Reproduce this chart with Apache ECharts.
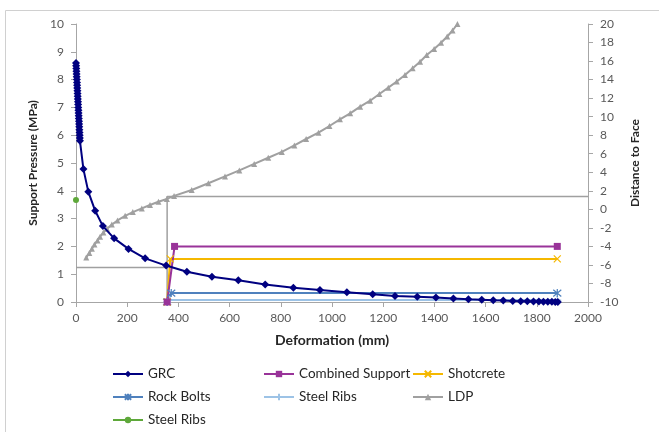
<!DOCTYPE html>
<html>
<head>
<meta charset="utf-8">
<script src="https://cdn.jsdelivr.net/npm/echarts@6/dist/echarts.min.js"></script>
<style>
  html, body { margin: 0; padding: 0; background: #fff; }
  #chart { width: 659px; height: 432px; }
</style>
</head>
<body>
<div id="chart"></div>
<script>
// Ground reaction curve: deformation (mm) vs support pressure (MPa)
var grcDeformation = [0, 0.6, 1.1, 1.7, 2.2, 2.8, 3.3, 3.9, 4.4, 5, 5.5, 6.1, 6.6, 7.2, 7.7,
  8.3, 8.8, 9.4, 9.9, 10.5, 11, 11.6, 12.1, 12.7, 13.2, 13.8, 14.3, 14.9, 15.4,
  29, 48, 75, 105, 149, 205, 270, 352, 433, 531, 634, 739, 849, 953, 1058, 1159,
  1246, 1333, 1406, 1474, 1533, 1585, 1630, 1669, 1706, 1737, 1763, 1787, 1808,
  1826, 1843, 1859, 1872, 1882];
var grcPressure = [8.6, 8.5, 8.4, 8.3, 8.2, 8.1, 8.0, 7.9, 7.8, 7.7, 7.6, 7.5, 7.4, 7.3, 7.2,
  7.1, 7.0, 6.9, 6.8, 6.7, 6.6, 6.5, 6.4, 6.3, 6.2, 6.1, 6.0, 5.9, 5.8,
  4.78, 3.97, 3.28, 2.73, 2.29, 1.91, 1.57, 1.31, 1.09, 0.91, 0.78, 0.63, 0.51, 0.43, 0.35, 0.28,
  0.22, 0.19, 0.16, 0.13, 0.1, 0.08, 0.06, 0.05, 0.04, 0.03, 0.025, 0.02, 0.015,
  0.01, 0.008, 0.005, 0.003, 0];

// Support reaction lines
var combinedDeformation = [356, 385, 1880];
var combinedPressure = [0, 2.0, 2.0];
var shotcreteDeformation = [356, 368, 1880];
var shotcretePressure = [0, 1.55, 1.55];
var boltsDeformation = [356, 372, 1880];
var boltsPressure = [0, 0.32, 0.32];
var ribsDeformation = [356, 366, 1880];
var ribsPressure = [0, 0.07, 0.07];
var ribsPointDeformation = [0];
var ribsPointPressure = [3.67];

// Longitudinal deformation profile: deformation (mm) vs distance to face (m)
var ldpDeformation = [40, 52, 62, 72, 84, 94, 107, 121, 140, 162, 192, 222, 257, 289, 322, 355,
  383, 452, 517, 582, 638, 696, 751, 804, 853, 899, 947, 990, 1031, 1071, 1110, 1149,
  1185, 1220, 1253, 1285, 1315, 1344, 1370, 1399, 1426, 1450, 1471, 1490];
var ldpDistance = [-5.2, -4.7, -4.25, -3.8, -3.35, -2.95, -2.5, -2.1, -1.65, -1.2, -0.7, -0.3, 0.1, 0.47, 0.82, 1.12,
  1.45, 2.09, 2.81, 3.55, 4.2, 4.9, 5.57, 6.2, 6.9, 7.59, 8.27, 8.99, 9.71, 10.36, 11.08, 11.72,
  12.45, 13.13, 13.8, 14.5, 15.22, 15.93, 16.65, 17.3, 17.98, 18.65, 19.3, 20];

// Installation guide lines
var guidePressureX = [0, 356];
var guidePressureY = [1.24, 1.24];
var guideDistanceX = [356, 356, 2000];
var guideDistanceY = [-10, 1.38, 1.38];

var xTicks = { min: 0, max: 2000, interval: 200 };
var leftTicks = { min: 0, max: 10, interval: 1 };
var rightTicks = { min: -10, max: 20, interval: 2 };

function pairs(xs, ys) {
  return xs.map(function (x, i) { return [x, ys[i]]; });
}
function plain(v) { return String(v); }

var FONT = 'Lato';
var axisGray = '#A6A6A6';
var labelStyle = { color: '#595959', fontSize: 12, fontFamily: FONT, formatter: plain };
var nameStyle = { color: '#262626', fontSize: 12, fontWeight: 'bold', fontFamily: FONT };

var X_MARK = 'path://M0,0L10,10M10,0L0,10';
var STAR_MARK = 'path://M0,0L10,10M10,0L0,10M5,-1L5,11';
var PLUS_MARK = 'path://M5,0L5,10M0,5L10,5';

var chart = echarts.init(document.getElementById('chart'), null, { renderer: 'canvas' });

var legendText = { color: '#262626', fontSize: 13.5, fontFamily: FONT };
function legendAt(left, names) {
  return {
    left: left, top: 367, orient: 'vertical', padding: 0,
    itemWidth: 30, itemHeight: 8, itemGap: 9,
    textStyle: legendText, data: names
  };
}

var option = {
  animation: false,
  backgroundColor: '#ffffff',
  graphic: [{
    type: 'rect',
    shape: { x: 5.5, y: 10.5, width: 700, height: 500 },
    style: { fill: 'none', stroke: '#D0D0D0', lineWidth: 1 },
    silent: true,
    z: -1
  }],
  grid: { left: 76, right: 71, top: 24, bottom: 130, containLabel: false },
  legend: [
    legendAt(112, ['GRC', 'Rock Bolts', 'Steel Ribs ']),
    legendAt(263, ['Combined Support', 'Steel Ribs']),
    legendAt(412, ['Shotcrete', 'LDP'])
  ],
  xAxis: {
    type: 'value', min: xTicks.min, max: xTicks.max, interval: xTicks.interval,
    name: 'Deformation (mm)', nameLocation: 'middle', nameGap: 31,
    nameTextStyle: Object.assign({}, nameStyle, { fontSize: 14 }),
    axisLine: { show: true, lineStyle: { color: axisGray } },
    axisTick: { show: true, length: 5, lineStyle: { color: axisGray } },
    axisLabel: Object.assign({ margin: 10 }, labelStyle),
    splitLine: { show: false }
  },
  yAxis: [
    {
      type: 'value', position: 'left', min: leftTicks.min, max: leftTicks.max, interval: leftTicks.interval,
      name: 'Support Pressure (MPa)', nameLocation: 'middle', nameGap: 37, nameTextStyle: nameStyle,
      axisLine: { show: true, lineStyle: { color: axisGray } },
      axisTick: { show: true, length: 5, lineStyle: { color: axisGray } },
      axisLabel: Object.assign({ margin: 12 }, labelStyle),
      splitLine: { show: false }
    },
    {
      type: 'value', position: 'right', min: rightTicks.min, max: rightTicks.max, interval: rightTicks.interval,
      name: 'Distance to Face', nameLocation: 'middle', nameGap: 34, nameRotate: 90, nameTextStyle: nameStyle,
      axisLine: { show: true, lineStyle: { color: axisGray } },
      axisTick: { show: true, length: 5, lineStyle: { color: axisGray } },
      axisLabel: Object.assign({ margin: 12 }, labelStyle),
      splitLine: { show: false }
    }
  ],
  series: [
    {
      name: 'guide-left', type: 'line', yAxisIndex: 0, data: pairs(guidePressureX, guidePressureY),
      symbol: 'none', lineStyle: { color: '#A0A0A0', width: 1.5 }, z: 1, silent: true
    },
    {
      name: 'guide-right', type: 'line', yAxisIndex: 1, data: pairs(guideDistanceX, guideDistanceY),
      symbol: 'none', lineStyle: { color: '#A0A0A0', width: 1.5 }, z: 1, silent: true
    },
    {
      name: 'LDP', type: 'line', yAxisIndex: 1, data: pairs(ldpDeformation, ldpDistance),
      symbol: 'triangle', symbolSize: 6, color: '#A0A0A0',
      lineStyle: { color: '#A0A0A0', width: 2 }, itemStyle: { color: '#A0A0A0' }, z: 2
    },
    {
      name: 'Steel Ribs', type: 'line', yAxisIndex: 0, data: pairs(ribsDeformation, ribsPressure),
      symbol: PLUS_MARK, symbolSize: 8, color: '#9DC3E6',
      lineStyle: { color: '#9DC3E6', width: 2 },
      itemStyle: { color: '#9DC3E6', borderColor: '#9DC3E6', borderWidth: 1.2 }, z: 3
    },
    {
      name: 'Rock Bolts', type: 'line', yAxisIndex: 0, data: pairs(boltsDeformation, boltsPressure),
      symbol: STAR_MARK, symbolSize: 8, color: '#4F81BD',
      lineStyle: { color: '#4F81BD', width: 2 },
      itemStyle: { color: '#4F81BD', borderColor: '#4F81BD', borderWidth: 1.2 }, z: 3
    },
    {
      name: 'Shotcrete', type: 'line', yAxisIndex: 0, data: pairs(shotcreteDeformation, shotcretePressure),
      symbol: X_MARK, symbolSize: 7, color: '#F5B800',
      lineStyle: { color: '#F5B800', width: 2 },
      itemStyle: { color: '#F5B800', borderColor: '#F5B800', borderWidth: 1.2 }, z: 3
    },
    {
      name: 'Combined Support', type: 'line', yAxisIndex: 0, data: pairs(combinedDeformation, combinedPressure),
      symbol: 'rect', symbolSize: 7, color: '#993399',
      lineStyle: { color: '#993399', width: 2 }, itemStyle: { color: '#993399' }, z: 3
    },
    {
      name: 'GRC', type: 'line', yAxisIndex: 0, data: pairs(grcDeformation, grcPressure),
      symbol: 'diamond', symbolSize: 8, color: '#000080',
      lineStyle: { color: '#000080', width: 2 }, itemStyle: { color: '#000080' }, z: 4
    },
    {
      name: 'Steel Ribs ', type: 'line', yAxisIndex: 0, data: pairs(ribsPointDeformation, ribsPointPressure),
      symbol: 'circle', symbolSize: 6, color: '#5EA83A',
      lineStyle: { color: '#5EA83A', width: 2 }, itemStyle: { color: '#5EA83A' }, z: 4
    }
  ]
};

chart.setOption(option);
</script>
</body>
</html>
